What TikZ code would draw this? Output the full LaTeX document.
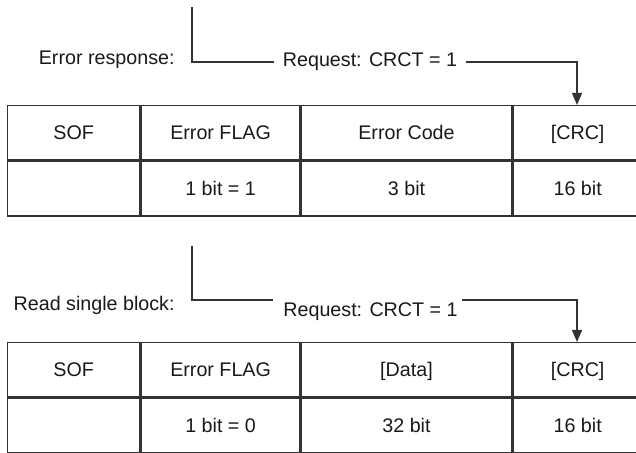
\documentclass[tikz,border=0pt]{standalone}
\usepackage{fontspec}
\setmainfont{Liberation Sans}
\usetikzlibrary{positioning,arrows.meta}

\tikzset{cell/.style={draw=black!80, line width=0.7pt, anchor=north west, minimum height=27.25pt, inner sep=0pt, text height=7pt, text depth=0pt},
  lbl/.style={inner xsep=4pt, inner ysep=0pt},
  wire/.style={draw=black!80, line width=0.7pt}}

\begin{document}
\begin{tikzpicture}[x=0.5pt,y=-0.5pt,font=\fontsize{9.85}{12}\selectfont,text=black!90]
  \useasboundingbox (0,0) rectangle (636,453);
  \node[cell, minimum width=66pt] (es) at (7,105) {SOF}; \node[cell, minimum width=79.5pt] (ef) at (es.north east) {Error FLAG};
  \node[cell, minimum width=105pt] (ec) at (ef.north east) {Error Code}; \node[cell, minimum width=64.75pt] (ecrc) at (ec.north east) {[CRC]};
  \node[cell, minimum width=66pt] (esb) at (es.south west) {}; \node[cell, minimum width=79.5pt] (efb) at (esb.north east) {1 bit = 1};
  \node[cell, minimum width=105pt] (ecb) at (efb.north east) {3 bit}; \node[cell, minimum width=64.75pt] (ecrcb) at (ecb.north east) {16 bit};
  \node[anchor=base east, inner sep=0pt] (elbl) at (175,65) {Error response:}; \node[lbl, anchor=base] (ereq) at (370,67) {Request: CRCT = 1};
  \coordinate (etop) at (192,7); \coordinate (ebend) at (192,62); \coordinate (earr) at (577,62);
  \draw[wire] (etop) -- (ebend) -- (ebend -| ereq.west);
  \draw[wire,-{Triangle[width=5pt,length=6pt]}] (ereq.east |- earr) -- (earr) -- (earr |- ecrc.north);

  \node[cell, minimum width=66pt] (rs) at (7,342) {SOF}; \node[cell, minimum width=79.5pt] (rf) at (rs.north east) {Error FLAG};
  \node[cell, minimum width=105pt] (rd) at (rf.north east) {[Data]}; \node[cell, minimum width=64.75pt] (rcrc) at (rd.north east) {[CRC]};
  \node[cell, minimum width=66pt] (rsb) at (rs.south west) {}; \node[cell, minimum width=79.5pt] (rfb) at (rsb.north east) {1 bit = 0};
  \node[cell, minimum width=105pt] (rdb) at (rfb.north east) {32 bit}; \node[cell, minimum width=64.75pt] (rcrcb) at (rdb.north east) {16 bit};
  \node[anchor=base east, inner sep=0pt] (rlbl) at (175,311) {Read single block:}; \node[lbl, anchor=base, inner xsep=2pt] (rreq) at (370.5,317) {Request: CRCT = 1};
  \coordinate (rtop) at (192,246); \coordinate (rbend) at (192,300); \coordinate (rarr) at (577,300);
  \draw[wire] (rtop) -- (rbend) -- ([xshift=-3pt]rbend -| rreq.west);
  \draw[wire,-{Triangle[width=5pt,length=6pt]}] (rreq.east |- rarr) -- (rarr) -- (rarr |- rcrc.north);
\end{tikzpicture}
\end{document}
